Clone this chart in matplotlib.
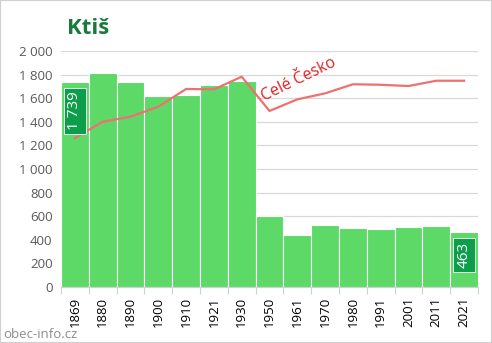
import matplotlib.pyplot as plt
import matplotlib.patches as mpatches
import numpy as np

plt.rcParams['font.family'] = ['Open Sans', 'DejaVu Sans']

# data
years = ['1869', '1880', '1890', '1900', '1910', '1921', '1930', '1950',
         '1961', '1970', '1980', '1991', '2001', '2011', '2021']
population = [1739, 1810, 1735, 1620, 1627, 1712, 1748, 604,
              443, 528, 503, 491, 511, 520, 463]
# "Celé Česko" trend, drawn in the same scale
czechia = [1263, 1400, 1443, 1528, 1678, 1675, 1782, 1492,
           1590, 1641, 1718, 1714, 1703, 1748, 1748]
labelled = [0, 14]

fig = plt.figure(figsize=(4.92, 3.43), dpi=100)
ax = fig.add_axes([61 / 492, 1 - 287 / 343, 417 / 492, 236 / 343])

x = np.arange(len(years))
ax.bar(x, population, width=1.0, color='#5cd966', edgecolor='white', linewidth=0.8, zorder=2)
ax.plot(x, czechia, color='#f07070', linewidth=1.6, zorder=3)

ax.text(6.85, 1545, 'Celé Česko', rotation=26, color='#e02020', fontsize=11.5,
        ha='left', va='bottom', rotation_mode='anchor', zorder=4)

for i in labelled:
    v = population[i]
    ax.annotate(f'{v:,}'.replace(',', ' '), (x[i], v), xytext=(0, -7), textcoords='offset points',
                rotation=90, ha='center', va='top', color='white', fontsize=11, zorder=5,
                bbox=dict(boxstyle='square,pad=0.25', fc='#0d9e4c', ec='white', lw=0.6))

ax.set_xlim(-0.5, len(years) - 0.5)
ax.set_ylim(0, 2000)
ax.set_yticks(range(0, 2001, 200))
ax.set_yticklabels([f'{v:,}'.replace(',', ' ') for v in range(0, 2001, 200)])
ax.tick_params(axis='y', length=0, labelsize=9.5, labelcolor='#595959', pad=6)
ax.grid(axis='y', color='#d9d9d9', linewidth=0.9, zorder=0)

ax.set_xticks(x)
ax.set_xticklabels(years, rotation=90)
ax.tick_params(axis='x', which='major', length=0, labelsize=9.5, labelcolor='black', pad=7)
ax.set_xticks(np.arange(-0.5, len(years)), minor=True)
ax.tick_params(axis='x', which='minor', length=5, color='#d0d0d0', width=0.8)

for s in ['top', 'right', 'left']:
    ax.spines[s].set_visible(False)
ax.spines['bottom'].set_color('#d0d0d0')

fig.text(67 / 492, 1 - 29 / 343, 'Ktiš', fontsize=16, fontweight='bold', color='#1a7a3c',
         ha='left', va='center')
fig.text(3 / 492, 1 - 335 / 343, 'obec-info.cz', fontsize=9.5, color='#8c8c8c',
         ha='left', va='center')

fig.patches.append(mpatches.Rectangle((0, 0), 1, 1, transform=fig.transFigure, fill=False,
                                      edgecolor='#d0d0d0', linewidth=1.5))

fig.savefig('out.png', dpi=100)
